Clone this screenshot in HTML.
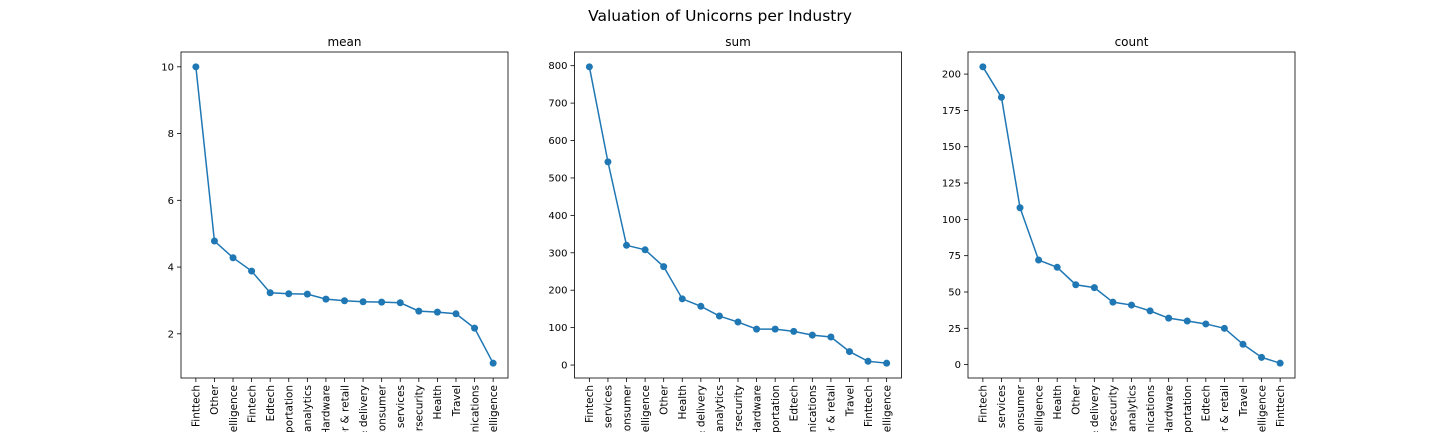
<!DOCTYPE html>
<html><head><meta charset="utf-8"><style>
html,body{margin:0;padding:0;background:#fff;width:1440px;height:432px;overflow:hidden}
svg{display:block}
text{font-family:"DejaVu Sans","Liberation Sans",sans-serif;fill:#000}
</style></head><body>
<svg id="chart" width="1440" height="432" xmlns="http://www.w3.org/2000/svg" overflow="hidden">
<defs><clipPath id="frameclip"><rect x="0" y="0" width="1440" height="432"/></clipPath></defs>
<text x="720" y="21" text-anchor="middle" font-size="15.5">Valuation of Unicorns per Industry</text>
</svg>
<script>
const meanCats=["Finttech","Other","Artificial intelligence","Fintech","Edtech","Auto & transportation","Data management & analytics","Hardware","Consumer & retail","Supply chain, logistics, & delivery","E-commerce & direct-to-consumer","Internet software & services","Cybersecurity","Health","Travel","Mobile & telecommunications","Artificial Intelligence"];
const meanVals=[10,4.78,4.28,3.88,3.23,3.2,3.19,3.04,2.99,2.96,2.95,2.93,2.68,2.65,2.6,2.17,1.12];
const meanTicks=[2,4,6,8,10];
const sumCats=["Fintech","Internet software & services","E-commerce & direct-to-consumer","Artificial intelligence","Other","Health","Supply chain, logistics, & delivery","Data management & analytics","Cybersecurity","Hardware","Auto & transportation","Edtech","Mobile & telecommunications","Consumer & retail","Travel","Finttech","Artificial Intelligence"];
const sumVals=[797,543,320,308,263,177,157,131,115,96,96,90,80,75,36,10,5];
const sumTicks=[0,100,200,300,400,500,600,700,800];
const countCats=["Fintech","Internet software & services","E-commerce & direct-to-consumer","Artificial intelligence","Health","Other","Supply chain, logistics, & delivery","Cybersecurity","Data management & analytics","Mobile & telecommunications","Hardware","Auto & transportation","Edtech","Consumer & retail","Travel","Artificial Intelligence","Finttech"];
const countVals=[205,184,108,72,67,55,53,43,41,37,32,30,28,25,14,5,1];
const countTicks=[0,25,50,75,100,125,150,175,200];

const svg=document.getElementById('chart');
const NS="http://www.w3.org/2000/svg";
function mk(tag,attrs,parent){const e=document.createElementNS(NS,tag);for(const k in attrs)e.setAttribute(k,attrs[k]);(parent||svg).appendChild(e);return e;}
function panel(name,x0,cats,vals,ticks){
  const x1=x0+327,y0=52,y1=378;
  const g=mk('g',{'clip-path':'url(#frameclip)'});
  
  
  const mn=Math.min(...vals),mx=Math.max(...vals),pad=(mx-mn)*0.05;
  const lo=mn-pad,hi=mx+pad;
  const n=cats.length;
  const xs=i=>x0+(i+0.8)/(n-1+1.6)*(x1-x0);
  const ys=v=>y1-(v-lo)/(hi-lo)*(y1-y0);
  const t=mk('text',{x:(x0+x1)/2,y:46,'text-anchor':'middle','font-size':12},g);
  t.textContent=name;
  
  
  ticks.forEach(v=>{
    const y=ys(v);
    const l=mk('line',{x1:x0-4,x2:x0,y1:y,y2:y,stroke:'#000','stroke-width':0.8},g);
    
    
    const tx=mk('text',{x:x0-7,y:y+3.5,'text-anchor':'end','font-size':10},g);
    tx.textContent=v;
    
    
  });
  cats.forEach((c,i)=>{
    const x=xs(i);
    const l=mk('line',{x1:x,x2:x,y1:y1,y2:y1+4,stroke:'#000','stroke-width':0.8},g);
    
    
    const tx=mk('text',{x:0,y:0,'text-anchor':'end','font-size':10.5,transform:`translate(${x+3.8},${y1+7}) rotate(-90)`},g);
    tx.textContent=c;
    
    
  });
  const pts=vals.map((v,i)=>xs(i)+','+ys(v)).join(' ');
  const pl=mk('polyline',{points:pts,fill:'none',stroke:'#1f77b4','stroke-width':1.5},g);
  
  
  vals.forEach((v,i)=>{
    const c=mk('circle',{cx:xs(i),cy:ys(v),r:3.5,fill:'#1f77b4'},g);
    
    
  });
  const r=mk('rect',{x:x0,y:y0,width:x1-x0,height:y1-y0,fill:'none',stroke:'#000','stroke-width':0.8},g);
  
  
}
panel('mean',181,meanCats,meanVals,meanTicks);
panel('sum',574.5,sumCats,sumVals,sumTicks);
panel('count',968,countCats,countVals,countTicks);
</script>
</body></html>
